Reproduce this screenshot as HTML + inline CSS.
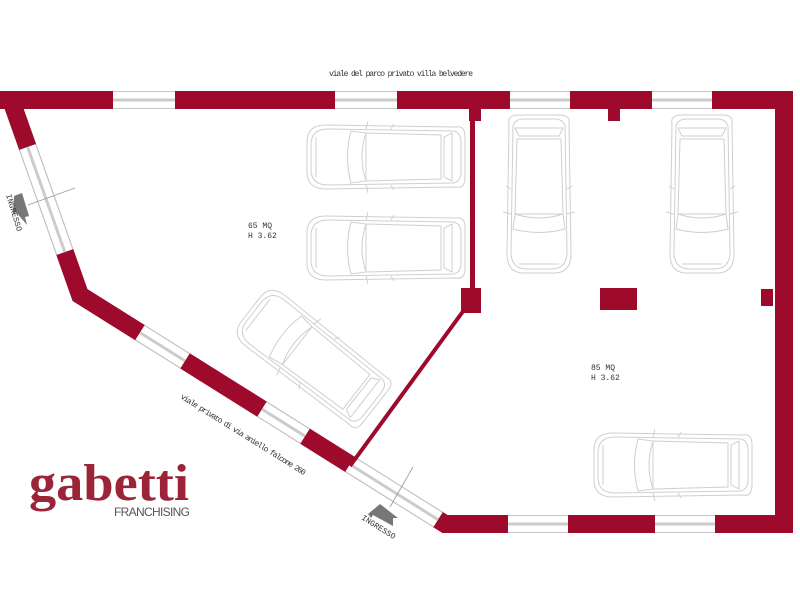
<!DOCTYPE html>
<html><head><meta charset="utf-8"><style>html,body{margin:0;padding:0;background:#fff}svg{display:block}</style></head>
<body>
<svg width="800" height="600" viewBox="0 0 800 600" xmlns="http://www.w3.org/2000/svg">
<defs>
<g id="car" fill="none" stroke="#cfcfcf" stroke-width="1">
  <path d="M-30,-70 Q-32,-79 -20,-79 L20,-79 Q32,-79 30,-70 L32,60 Q32,79 15,79 L-15,79 Q-32,79 -32,60 Z"/>
  <path d="M-26,-68 Q-24,-75 -15,-75 L15,-75 Q24,-75 26,-68 L28,58 Q28,75 12,75 L-12,75 Q-28,75 -28,58 Z"/>
  <path d="M-20,-58 L20,-58 L24,-66 L-24,-66 Z"/>
  <path d="M-22,-55 L22,-55 L24,20 L-24,20 Z"/>
  <path d="M-24,20 Q0,28 24,20 L26,35 Q0,42 -26,35 Z"/>
  <path d="M-28,-5 L-33,-8 M28,-5 L33,-8 M-28,20 L-36,18 M28,20 L36,18"/>
  <path d="M-20,70 L20,70"/>
</g>
</defs>

<text x="401" y="76" font-family="Liberation Mono, monospace" font-size="8" text-anchor="middle" textLength="144" fill="#333">viale del parco privato villa belvedere</text>

<use href="#car" transform="translate(539,194)"/>
<use href="#car" transform="translate(702,194)"/>
<use href="#car" transform="translate(386,157) rotate(90)"/>
<use href="#car" transform="translate(386,248) rotate(90)"/>
<use href="#car" transform="translate(673,465) rotate(90)"/>
<use href="#car" transform="translate(313,358) rotate(128)"/>

<polyline points="0,100 784,100 784,524 445,524 80,295 11,100" fill="none" stroke="#9e0a2c" stroke-width="18" stroke-linejoin="miter"/>
<polygon points="0,91 22,91 22,109 0,109" fill="#9e0a2c"/>

<g stroke-linecap="butt">
  <g id="wins">
  <line x1="113" y1="100" x2="175" y2="100"/>
  <line x1="335" y1="100" x2="397" y2="100"/>
  <line x1="510" y1="100" x2="570" y2="100"/>
  <line x1="652" y1="100" x2="712" y2="100"/>
  <line x1="508" y1="524" x2="568" y2="524"/>
  <line x1="655" y1="524" x2="715" y2="524"/>
  <line x1="27.6" y1="147" x2="64.8" y2="252"/>
  <line x1="140" y1="332.6" x2="185" y2="360.9"/>
  <line x1="262" y1="409.2" x2="305" y2="436.1"/>
  <line x1="350" y1="464.4" x2="438" y2="519.6"/>
  </g>
  <use href="#wins" stroke="#c8c8c8" stroke-width="18"/>
  <use href="#wins" stroke="#ffffff" stroke-width="16"/>
  <use href="#wins" stroke="#cccccc" stroke-width="3"/>
</g>

<g fill="#9e0a2c">
  <rect x="470" y="109" width="5" height="180"/>
  <rect x="469" y="109" width="12" height="12"/>
  <rect x="608" y="109" width="12" height="12"/>
  <rect x="461" y="288" width="20" height="25"/>
  <rect x="600" y="288" width="37" height="22"/>
  <rect x="761" y="289" width="12" height="17"/>
</g>
<line x1="464" y1="310" x2="350" y2="466" stroke="#9e0a2c" stroke-width="4"/>

<line x1="28" y1="205" x2="75" y2="188" stroke="#999" stroke-width="0.8"/>
<line x1="413" y1="467" x2="390" y2="507" stroke="#999" stroke-width="0.8"/>
<polygon points="14,196 22,193 29,216 25,217 27,225 16,212 13,214" fill="#777"/>
<polygon points="368,514 380,504 398,518 393,518 393,526 373,515 371,518" fill="#777"/>
<text x="0" y="0" font-family="Liberation Mono, monospace" font-size="8" fill="#333" transform="translate(6,195) rotate(73)">INGRESSO</text>
<text x="0" y="0" font-family="Liberation Mono, monospace" font-size="8" fill="#333" transform="translate(361,519) rotate(32)">INGRESSO</text>

<text font-family="Liberation Mono, monospace" font-size="8" fill="#333"><tspan x="248" y="228">65 MQ</tspan><tspan x="248" y="238">H 3.62</tspan></text>
<text font-family="Liberation Mono, monospace" font-size="8" fill="#333"><tspan x="591" y="370">85 MQ</tspan><tspan x="591" y="380">H 3.62</tspan></text>
<text x="0" y="0" font-family="Liberation Mono, monospace" font-size="8" fill="#333" transform="translate(180,398) rotate(32)" textLength="146">viale privato di via aniello falcone 260</text>

<text x="29" y="500" font-family="Liberation Serif, serif" font-weight="bold" font-size="52" fill="#9b2438" textLength="160" lengthAdjust="spacingAndGlyphs">gabetti</text>
<text x="114" y="516" font-family="Liberation Sans, sans-serif" font-size="12" fill="#555" textLength="76">FRANCHISING</text>
</svg>
</body></html>
